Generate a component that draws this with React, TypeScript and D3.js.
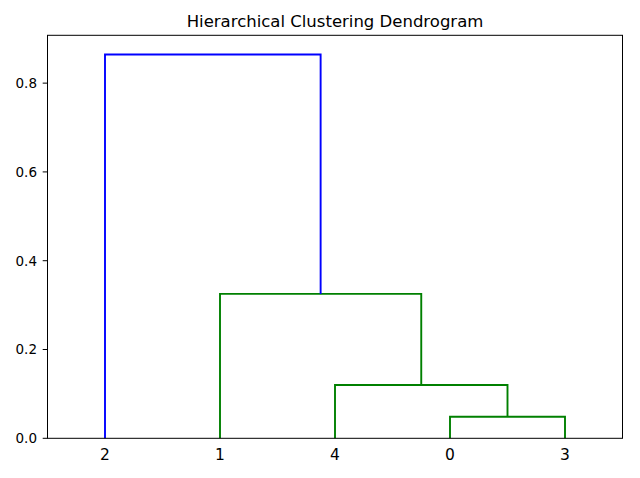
import React from "react";
import * as d3 from "d3";

// Leaf order as displayed (left to right)
const leafOrder = [2, 1, 4, 0, 3];
// Linkage: each merge joins two cluster ids (0..4 leaves, 5+ merged clusters)
const mergeLeft = [0, 4, 1, 2];
const mergeRight = [3, 5, 6, 7];
const mergeHeight = [0.0487, 0.12, 0.3252, 0.8645];
const mergeColor = ["#008000", "#008000", "#008000", "#0000ff"];
const yTicks = [0, 0.2, 0.4, 0.6, 0.8];
const title = "Hierarchical Clustering Dendrogram";

const W = 640;
const H = 478;
const M = { left: 47.5, right: 622.5, top: 35.3, bottom: 438.3 };

export default function App() {
  const n = leafOrder.length;
  const x = d3.scaleLinear().domain([0, n * 10]).range([M.left, M.right]);
  const yMax = d3.max(mergeHeight)! * 1.05;
  const y = d3.scaleLinear().domain([0, yMax]).range([M.bottom, M.top]);

  const pos: Record<number, number> = {};
  const hgt: Record<number, number> = {};
  leafOrder.forEach((leaf, i) => {
    pos[leaf] = i * 10 + 5;
    hgt[leaf] = 0;
  });
  const line = d3
    .line<[number, number]>()
    .x((d) => x(d[0]))
    .y((d) => y(d[1]));
  const links = mergeLeft.map((a, i) => {
    const b = mergeRight[i];
    const id = n + i;
    const h = mergeHeight[i];
    const xa = pos[a];
    const xb = pos[b];
    pos[id] = (xa + xb) / 2;
    hgt[id] = h;
    const pts: [number, number][] = [
      [xa, hgt[a]],
      [xa, h],
      [xb, h],
      [xb, hgt[b]],
    ];
    return { d: line(pts)!, color: mergeColor[i] };
  });

  const font = "'DejaVu Sans', sans-serif";
  const fmt = d3.format(".1f");

  return (
    <svg
      width={W}
      height={H}
      style={{ position: "fixed", left: 0, top: 0, background: "#fff" }}
    >
      <rect x={0} y={0} width={W} height={H} fill="#fff" />
      {links.map((l, i) => (
        <path key={i} d={l.d} fill="none" stroke={l.color} strokeWidth={1.9} />
      ))}
      <rect
        x={M.left}
        y={M.top}
        width={M.right - M.left}
        height={M.bottom - M.top}
        fill="none"
        stroke="#000"
        strokeWidth={1}
      />
      {yTicks.map((t) => (
        <g key={t}>
          <line
            x1={M.left - 4.8}
            x2={M.left}
            y1={y(t)}
            y2={y(t)}
            stroke="#000"
            strokeWidth={1}
          />
          <text
            x={M.left - 10.5}
            y={y(t)}
            dy="0.36em"
            textAnchor="end"
            fontFamily={font}
            fontSize={13.5}
            fill="#000"
          >
            {fmt(t)}
          </text>
        </g>
      ))}
      {leafOrder.map((leaf, i) => (
        <text
          key={leaf}
          x={x(i * 10 + 5)}
          y={460}
          textAnchor="middle"
          fontFamily={font}
          fontSize={15.5}
          fill="#000"
        >
          {String(leaf)}
        </text>
      ))}
      <text
        x={(M.left + M.right) / 2}
        y={27}
        textAnchor="middle"
        fontFamily={font}
        fontSize={16.5}
        fill="#000"
      >
        {title}
      </text>
    </svg>
  );
}
